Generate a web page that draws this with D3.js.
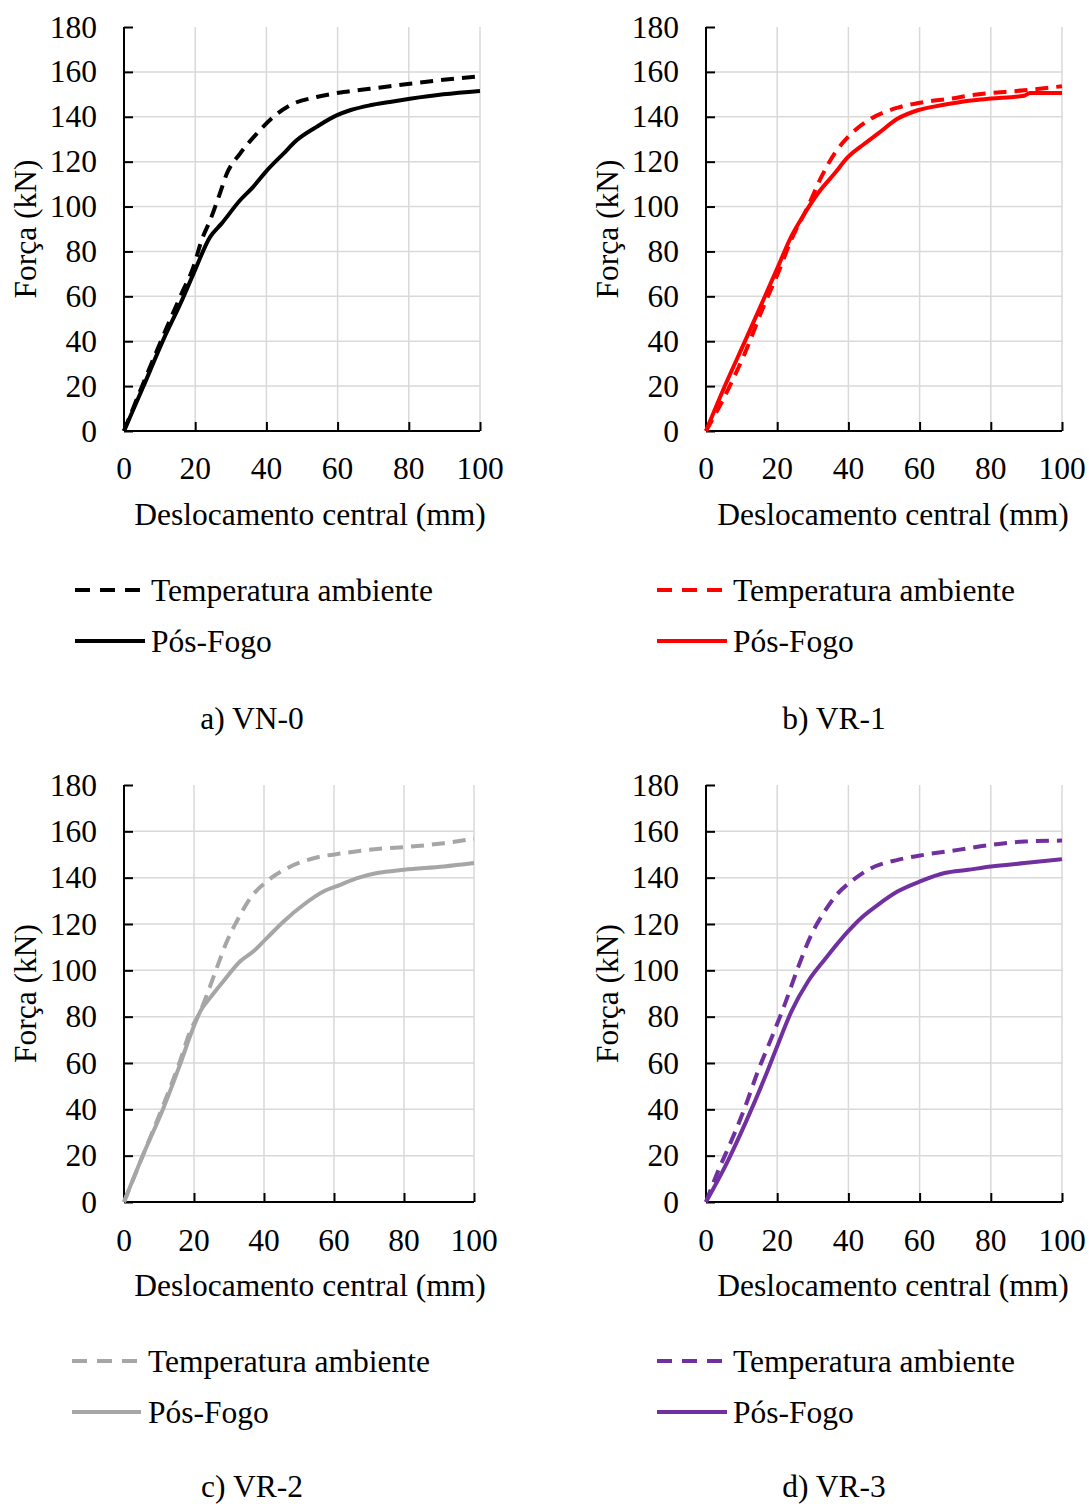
<!DOCTYPE html>
<html>
<head>
<meta charset="utf-8">
<script src="https://cdn.jsdelivr.net/npm/d3@7"></script>
<style>
  html, body { margin: 0; padding: 0; background: #fff; }
  svg { display: block; }
  text { font-family: "Liberation Serif", "Times New Roman", serif; fill: #000; }
</style>
</head>
<body>
<svg id="chart" width="1089" height="1504"></svg>
<script>
// ---- Data ----
const xTicks = [0, 20, 40, 60, 80, 100];
const yTicks = [0, 20, 40, 60, 80, 100, 120, 140, 160, 180];
const seriesNames = ["Temperatura ambiente", "Pós-Fogo"];
const panelCaptions = ["a) VN-0", "b) VR-1", "c) VR-2", "d) VR-3"];
const xTitle = "Deslocamento central (mm)";
const yTitle = "Força (kN)";

// [deslocamento (mm), força (kN)]
const vn0Ambiente = [[0,0],[5.4,21.2],[12.9,49.4],[16.2,61.3],[19.5,73.1],[21.8,85],[24.2,93.9],[26.6,104.3],[28.9,114.7],[32.6,123.6],[37.3,132.5],[41.9,139.9],[46.6,145.1],[54.1,148.8],[61.6,151],[69.1,152.5],[74.7,153.6],[80.3,154.7],[89.7,156.5],[100,158]];
const vn0PosFogo  = [[0,0],[5.4,19.7],[11,40.5],[16.2,58],[19.5,70],[24.2,86.5],[27.4,92.4],[32.6,102.8],[36.3,108.8],[40.1,116],[44.8,123.6],[48.5,129.5],[54.1,135.5],[59.7,140.6],[63.5,142.9],[69.1,145.1],[74.7,146.6],[80.3,148],[89.7,150],[100,151.5]];

const vr1Ambiente = [[0,0],[5.2,15.3],[10.9,34.6],[16.5,56.8],[20.2,70.2],[23.9,85],[28.6,99.9],[32.4,113.2],[36.1,123.6],[39.9,131],[46.4,139.2],[53.9,144.1],[61.4,146.6],[68.8,148.1],[74.5,149.6],[89.4,151.8],[100,153.6]];
const vr1PosFogo  = [[0,0],[5.2,19.7],[10.9,39.8],[16.5,59.8],[20.2,73.1],[23.9,86.5],[27.7,96.9],[31.4,105.8],[36.1,114.7],[39.9,122.1],[44.5,128],[48.3,132.5],[53.9,139.2],[59.5,142.9],[66,145.1],[74.5,147.3],[80.1,148.1],[89.4,149.4],[91,150.6],[100,150.6]];

const vr2Ambiente = [[0,0],[5.5,20.5],[11.3,42.1],[16,60.8],[18.9,73.7],[21.8,82.3],[23.7,89.5],[26.5,101],[29.4,112.5],[32.2,121.1],[36.1,131.2],[40.8,138.4],[46.6,144.1],[54.2,148.4],[62.8,150.6],[72.3,152.4],[81.9,153.4],[91.4,154.9],[100,156.8]];
const vr2PosFogo  = [[0,0],[5.5,20.5],[11.3,40.7],[16,59.3],[19.4,73.7],[21.8,82.3],[24.6,88.1],[28.4,95.3],[33.2,103.9],[37,108.2],[40.8,113.9],[45.6,121.1],[51.3,128.3],[57.1,134.1],[61.8,136.9],[66.6,139.8],[72.3,142],[80,143.4],[91.4,144.8],[100,146.3]];

const vr3Ambiente = [[0,0],[3.4,13.4],[7.1,26.3],[10.9,40.7],[14.6,56.5],[18.4,70.8],[22.1,85.2],[25.8,101],[29.6,115.4],[33.3,125.4],[37.1,133.3],[40.8,138.4],[46.4,144.1],[53.9,147.7],[61.4,149.9],[70.8,152],[80.1,154.2],[89.5,155.6],[100,156]];
const vr3PosFogo  = [[0,0],[5.2,14.8],[10.9,33.5],[16.5,53.6],[20.2,68],[24,82.3],[28.7,95.3],[33.3,104.6],[39.9,116.8],[43.6,122.6],[48.3,128.3],[53.9,134.1],[60.5,138.6],[67,142],[73.6,143.4],[80.1,144.8],[89.5,146.3],[100,148]];

const panelColors = ["#000000", "#ff0000", "#a6a6a6", "#7030a0"];

// ---- Layout ----
const layout = [
  { x0:124, x1:480, y0:431, y1:27,  xLab:468,  xTitleX:310, xTitleY:514,  yTitleX:25,  legLine:[75,145],  legText:151, leg1:590,  leg2:641,  capX:252, capY:718 },
  { x0:706, x1:1062, y0:431, y1:27, xLab:468,  xTitleX:893, xTitleY:514,  yTitleX:607, legLine:[657,727], legText:733, leg1:590,  leg2:641,  capX:834, capY:718 },
  { x0:124, x1:474, y0:1202, y1:785, xLab:1240, xTitleX:310, xTitleY:1285, yTitleX:25, legLine:[72,141],  legText:148, leg1:1361, leg2:1412, capX:252, capY:1486 },
  { x0:706, x1:1062, y0:1202, y1:785, xLab:1240, xTitleX:893, xTitleY:1285, yTitleX:607, legLine:[657,727], legText:733, leg1:1361, leg2:1412, capX:834, capY:1486 }
];
const panelData = [
  [vn0Ambiente, vn0PosFogo],
  [vr1Ambiente, vr1PosFogo],
  [vr2Ambiente, vr2PosFogo],
  [vr3Ambiente, vr3PosFogo]
];

const FS = 31.5;
const LW = 4;
const DASH = "13,8";
const svg = d3.select("#chart");

layout.forEach((L, i) => {
  const color = panelColors[i];
  const x = d3.scaleLinear().domain([0, 100]).range([L.x0, L.x1]);
  const y = d3.scaleLinear().domain([0, 180]).range([L.y0, L.y1]);
  const g = svg.append("g");

  // grid
  g.append("g").selectAll("line").data(xTicks.filter(d => d > 0)).join("line")
    .attr("x1", d => x(d)).attr("x2", d => x(d))
    .attr("y1", y(0)).attr("y2", y(180))
    .attr("stroke", "#d9d9d9").attr("stroke-width", 1.5);
  g.append("g").selectAll("line").data(yTicks.filter(d => d > 0 && d < 180)).join("line")
    .attr("x1", x(0)).attr("x2", x(100))
    .attr("y1", d => y(d)).attr("y2", d => y(d))
    .attr("stroke", "#d9d9d9").attr("stroke-width", 1.5);

  // axes (ticks inward)
  const xAxis = d3.axisBottom(x).tickValues(xTicks).tickSize(-9).tickFormat("");
  const yAxis = d3.axisLeft(y).tickValues(yTicks).tickSize(-9).tickFormat("");
  const gx = g.append("g").attr("transform", `translate(0,${y(0)})`).call(xAxis);
  const gy = g.append("g").attr("transform", `translate(${x(0)},0)`).call(yAxis);
  [gx, gy].forEach(a => {
    a.select(".domain").attr("stroke", "#000").attr("stroke-width", 2);
    a.selectAll(".tick line").attr("stroke", "#000").attr("stroke-width", 2);
  });
  gx.select(".domain").attr("d", `M${x(0)},0H${x(100)}`);
  gy.select(".domain").attr("d", `M0,${y(0)}V${y(180)}`);

  // tick labels
  g.append("g").selectAll("text").data(xTicks).join("text")
    .attr("x", d => x(d)).attr("y", L.xLab)
    .attr("text-anchor", "middle").attr("dominant-baseline", "central")
    .attr("font-size", FS).text(d => d);
  g.append("g").selectAll("text").data(yTicks).join("text")
    .attr("x", x(0) - 27).attr("y", d => y(d))
    .attr("text-anchor", "end").attr("dominant-baseline", "central")
    .attr("font-size", FS).text(d => d);

  // axis titles
  g.append("text").attr("x", L.xTitleX).attr("y", L.xTitleY)
    .attr("text-anchor", "middle").attr("dominant-baseline", "central")
    .attr("font-size", FS).text(xTitle);
  g.append("text")
    .attr("transform", `translate(${L.yTitleX},${(y(0) + y(180)) / 2}) rotate(-90)`)
    .attr("text-anchor", "middle").attr("dominant-baseline", "central")
    .attr("font-size", FS).text(yTitle);

  // series
  const line = d3.line().x(d => x(d[0])).y(d => y(d[1])).curve(d3.curveMonotoneX);
  panelData[i].forEach((s, k) => {
    g.append("path").datum(s).attr("d", line)
      .attr("fill", "none").attr("stroke", color).attr("stroke-width", LW)
      .attr("stroke-linejoin", "round")
      .attr("stroke-dasharray", k === 0 ? DASH : null);
  });

  // legend
  [L.leg1, L.leg2].forEach((ly, k) => {
    g.append("line").attr("x1", L.legLine[0]).attr("x2", L.legLine[1])
      .attr("y1", ly).attr("y2", ly)
      .attr("stroke", color).attr("stroke-width", LW)
      .attr("stroke-dasharray", k === 0 ? "15,10" : null);
    g.append("text").attr("x", L.legText).attr("y", ly)
      .attr("dominant-baseline", "central").attr("font-size", FS)
      .text(seriesNames[k]);
  });

  // caption
  g.append("text").attr("x", L.capX).attr("y", L.capY)
    .attr("text-anchor", "middle").attr("dominant-baseline", "central")
    .attr("font-size", FS).text(panelCaptions[i]);
});
</script>
</body>
</html>
